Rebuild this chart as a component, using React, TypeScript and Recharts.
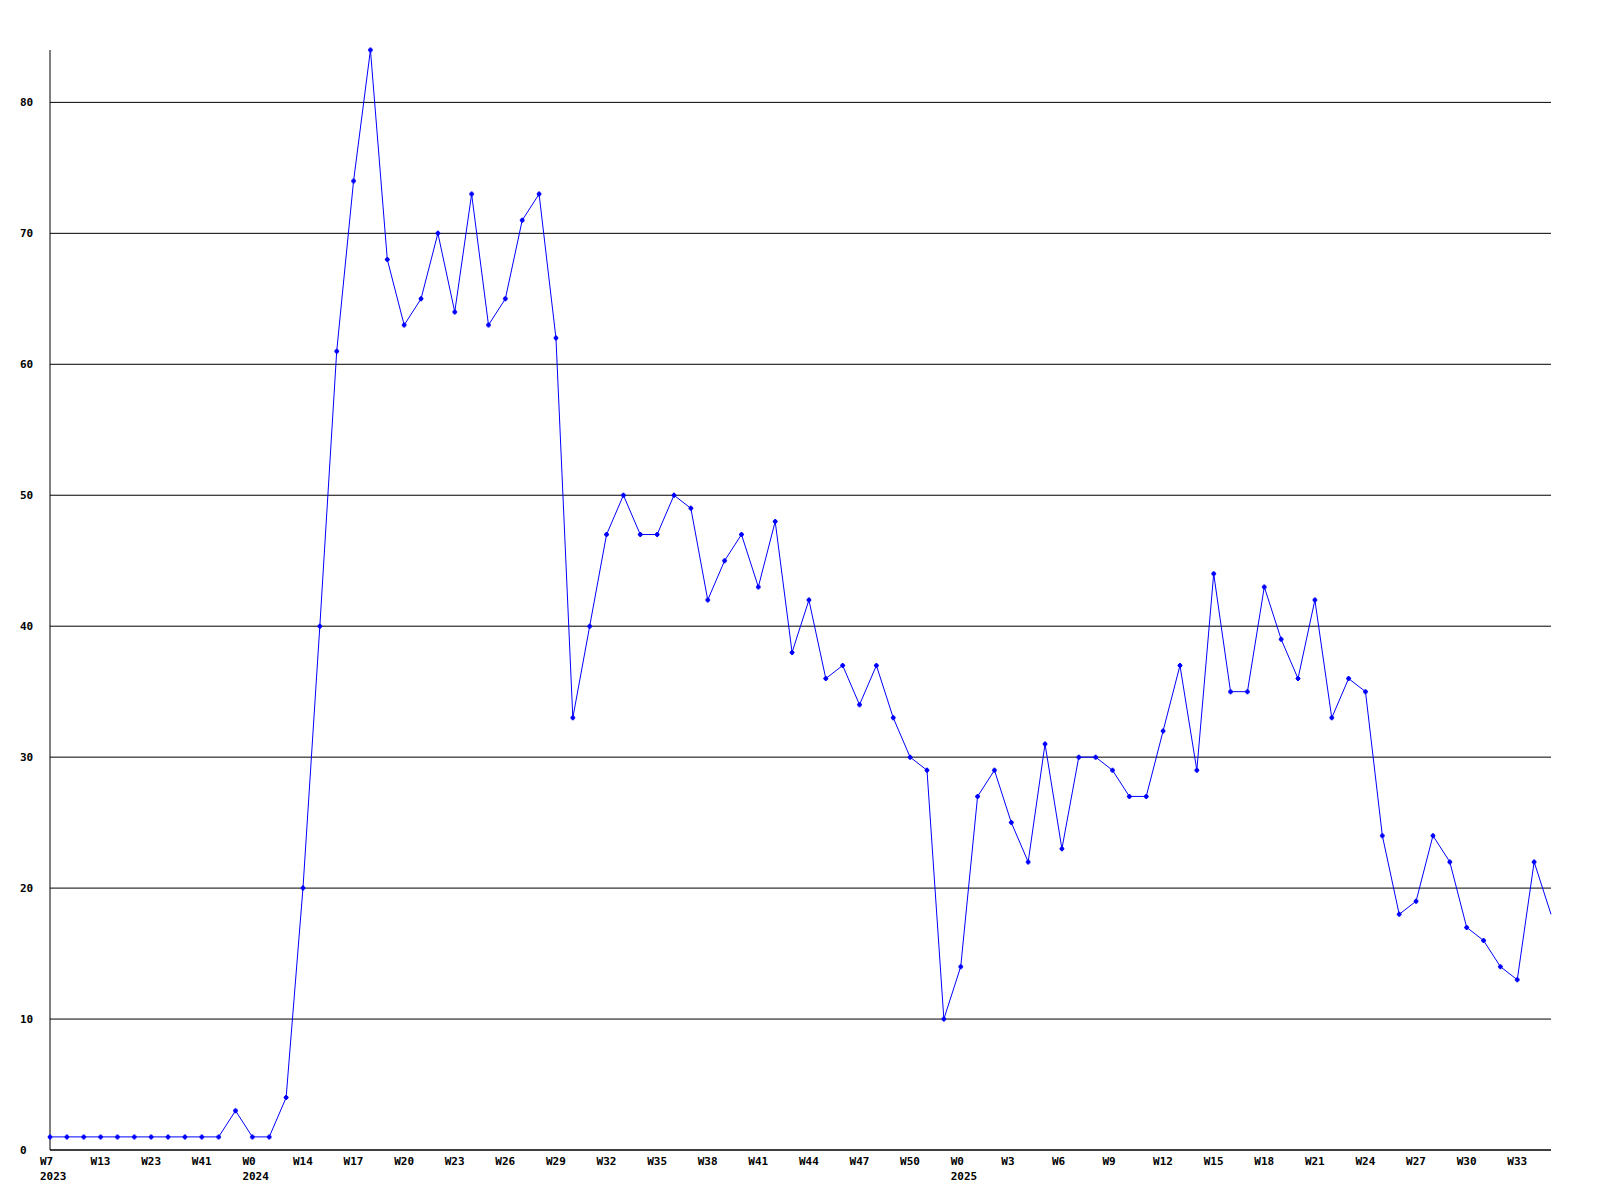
import { LineChart, Line, XAxis, YAxis, CartesianGrid } from 'recharts'

const weeks = [
  'W7', 'W9', 'W11', 'W13', 'W16', 'W19', 'W23', 'W29', 'W35', 'W41', 'W45', 'W49',
  'W0', 'W5', 'W10', 'W14', 'W15', 'W16', 'W17', 'W18', 'W19', 'W20', 'W21', 'W22',
  'W23', 'W24', 'W25', 'W26', 'W27', 'W28', 'W29', 'W30', 'W31', 'W32', 'W33', 'W34',
  'W35', 'W36', 'W37', 'W38', 'W39', 'W40', 'W41', 'W42', 'W43', 'W44', 'W45', 'W46',
  'W47', 'W48', 'W49', 'W50', 'W51', 'W52', 'W0', 'W1', 'W2', 'W3', 'W4', 'W5',
  'W6', 'W7', 'W8', 'W9', 'W10', 'W11', 'W12', 'W13', 'W14', 'W15', 'W16', 'W17',
  'W18', 'W19', 'W20', 'W21', 'W22', 'W23', 'W24', 'W25', 'W26', 'W27', 'W28', 'W29',
  'W30', 'W31', 'W32', 'W33', 'W34', 'W35',
]

// year shown under the first label of each year
const yearMarks: Record<number, string> = { 0: '2023', 12: '2024', 54: '2025' }

const values = [
  1, 1, 1, 1, 1, 1, 1, 1, 1, 1, 1, 3,
  1, 1, 4, 20, 40, 61, 74, 84, 68, 63, 65, 70,
  64, 73, 63, 65, 71, 73, 62, 33, 40, 47, 50, 47,
  47, 50, 49, 42, 45, 47, 43, 48, 38, 42, 36, 37,
  34, 37, 33, 30, 29, 10, 14, 27, 29, 25, 22, 31,
  23, 30, 30, 29, 27, 27, 32, 37, 29, 44, 35, 35,
  43, 39, 36, 42, 33, 36, 35, 24, 18, 19, 24, 22,
  17, 16, 14, 13, 22, 18,
]

const yTicks = [0, 10, 20, 30, 40, 50, 60, 70, 80]

const data = weeks.map((w, i) => ({ idx: i, week: w, value: values[i] }))

const FONT = '"DejaVu Sans Mono", "Liberation Mono", monospace'

function XTick(props: any) {
  const { x, y, payload } = props
  const i = payload.value as number
  const year = yearMarks[i]
  return (
    <g>
      <text x={x - 10} y={y + 7} fontFamily={FONT} fontSize={11} fontWeight="bold" fill="#000" textAnchor="start">{weeks[i]}</text>
      {year && (
        <text x={x - 10} y={y + 22} fontFamily={FONT} fontSize={11} fontWeight="bold" fill="#000" textAnchor="start">{year}</text>
      )}
    </g>
  )
}

function YTick(props: any) {
  const { y, payload } = props
  return (
    <text x={20} y={y + 4} fontFamily={FONT} fontSize={11} fontWeight="bold" fill="#000" textAnchor="start">{payload.value}</text>
  )
}

function Marker(props: any) {
  const { cx, cy, index } = props
  // last point sits on the plot edge and is clipped in the original
  if (cx == null || cy == null || index === values.length - 1) return <g key={index} />
  return (
    <path key={index} d={`M${cx - 1} ${cy - 2.5}h2v1h1v1h0.5v1h-0.5v1h-1v1h-2v-1h-1v-1h-0.5v-1h0.5v-1h1z`} fill="#0000ff" />
  )
}

export default function App() {
  return (
    <div style={{ position: 'absolute', left: 0, top: 0, width: 1600, height: 1200, background: '#fff' }}>
      <LineChart width={1600} height={1200} data={data} margin={{ top: 50, right: 49, left: 0, bottom: 0 }}>
        <CartesianGrid vertical={false} horizontalValues={yTicks} stroke="#000" strokeWidth={1} />
        <XAxis dataKey="idx" type="category" interval={2} height={50} tickLine={false}
          axisLine={{ stroke: '#000' }} tick={<XTick />} />
        <YAxis domain={[0, 84]} ticks={yTicks} width={50} tickLine={false}
          axisLine={{ stroke: '#000' }} tick={<YTick />} />
        <Line type="linear" dataKey="value" stroke="#0000ff" strokeWidth={1}
          dot={<Marker />} activeDot={false} isAnimationActive={false} />
      </LineChart>
    </div>
  )
}
